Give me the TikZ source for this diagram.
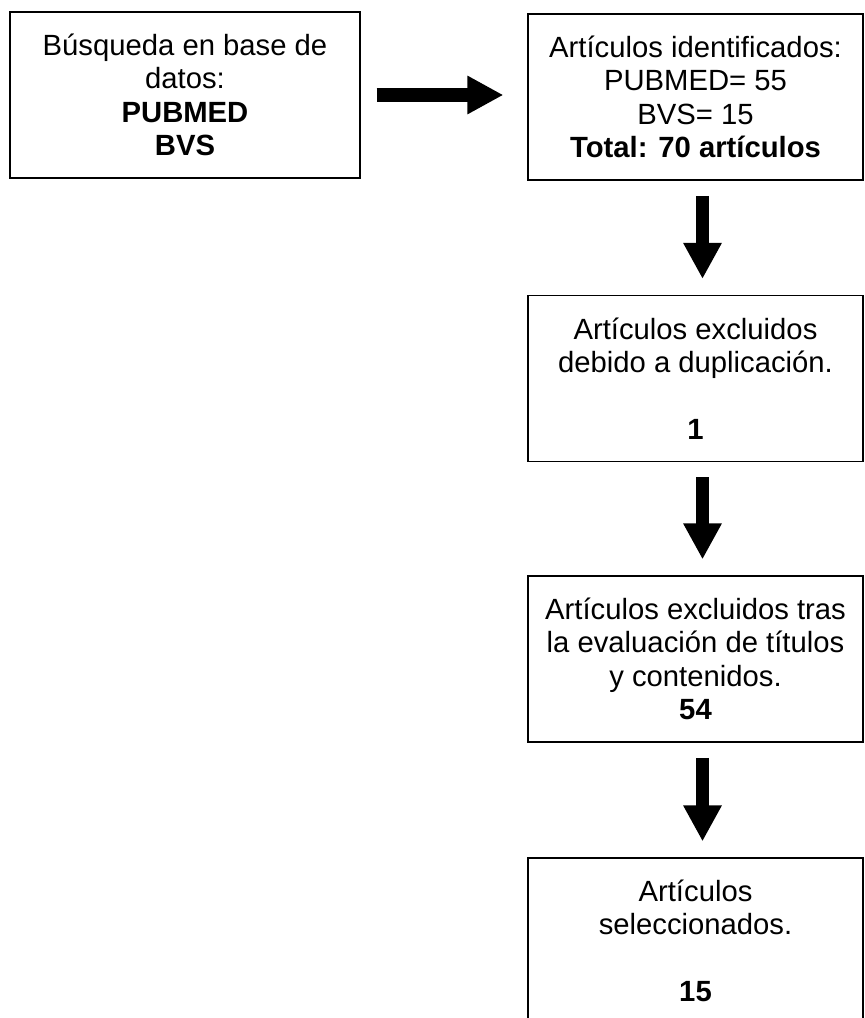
\documentclass[tikz,border=0pt]{standalone}
\usepackage{fontspec}
\setmainfont{Liberation Sans}
\usetikzlibrary{arrows.meta,calc}

\begin{document}
\begin{tikzpicture}[x=0.025cm,y=-0.025cm,
  caja/.style={draw,line width=0.8pt,align=center,minimum width=8.375cm,minimum height=4.15cm,inner sep=0pt,font=\fontsize{20.8}{23.8}\selectfont},
  flecha/.style={line width=9.25pt,-{Triangle[length=0.9cm,width=0.9cm]},shorten <=0.38cm,shorten >=0.4cm}]

\useasboundingbox (0,0) rectangle (865,1018);

\node[caja,minimum width=8.75cm] (busqueda) at (185,95) {Búsqueda en base de\\datos:\\\textbf{PUBMED}\\\textbf{BVS}};
\node[caja] (identificados) at (695.5,97) {Artículos identificados:\\PUBMED= 55\\BVS= 15\\\textbf{Total: 70 artículos}};
\node[caja] (duplicados) at (695.5,378.5) {Artículos excluidos\\debido a duplicación.\\\strut\\\textbf{1}};
\node[caja] (excluidos) at (695.5,659) {Artículos excluidos tras\\la evaluación de títulos\\y contenidos.\\\textbf{54}};
\node[caja] (seleccionados) at (695.5,941) {Artículos\\seleccionados.\\\strut\\\textbf{15}};

\draw[flecha,shorten <=0.4cm,shorten >=0.6cm] (busqueda.east) -- (busqueda.east -| identificados.west);
\draw[flecha] ($(identificados.south)+(7,0)$) -- ($(duplicados.north)+(7,0)$);
\draw[flecha] ($(duplicados.south)+(7,0)$) -- ($(excluidos.north)+(7,0)$);
\draw[flecha] ($(excluidos.south)+(7,0)$) -- ($(seleccionados.north)+(7,0)$);

\end{tikzpicture}
\end{document}
